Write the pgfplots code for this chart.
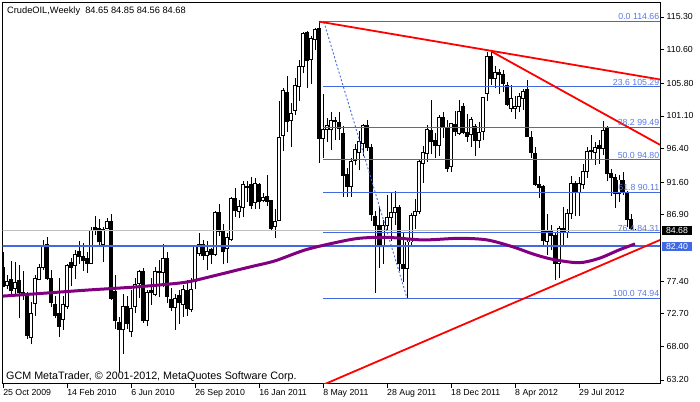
\documentclass[border=0pt]{standalone}
\usepackage{pgfplots}
\pgfplotsset{compat=1.18}
\usepackage{pgfplotstable}
\usepackage{fontspec}
\setmainfont{Liberation Sans}
\definecolor{fibline}{RGB}{65,105,225}
\definecolor{fibtext}{RGB}{90,120,230}
\definecolor{maline}{RGB}{128,0,128}
\definecolor{bidgray}{RGB}{192,192,192}
\newcommand\lab{\fontsize{8.8}{10}\selectfont}

\pgfplotstableread{
i o h l c
0 79.4 81.5 76.5 76.6
1 76.7 78.3 76.2 77.4
2 77.6 80.3 75.3 76.0
3 76.3 80.1 75.3 77.2
4 77.5 79.7 72.1 75.7
5 75.7 78.8 74.7 75.5
6 75.6 75.8 69.1 69.6
7 69.3 74.4 68.3 72.8
8 74.2 78.3 72.4 77.8
9 77.6 79.9 77.5 79.4
10 79.4 83.3 79.0 82.5
11 82.7 83.7 77.5 77.7
12 77.7 79.0 73.7 74.3
13 74.0 75.3 72.1 72.5
14 72.7 77.8 69.3 70.9
15 71.9 75.3 70.4 74.0
16 73.7 79.9 73.4 79.6
17 80.1 80.7 76.7 79.4
18 79.6 81.8 77.7 81.2
19 81.6 83.1 79.9 80.9
20 80.9 82.8 78.9 80.3
21 80.7 81.5 78.6 79.9
22 79.9 85.1 79.9 84.6
23 85.1 86.8 84.0 84.6
24 84.9 86.3 82.3 83.0
25 82.7 85.1 80.2 84.8
26 85.0 86.4 84.8 85.9
27 85.9 87.0 74.7 74.9
28 75.9 78.3 70.5 71.7
29 71.4 72.3 64.4 70.4
30 70.4 75.5 66.9 73.7
31 73.7 75.2 70.5 71.3
32 70.1 76.1 69.4 73.5
33 73.7 77.9 72.8 76.9
34 77.1 79.0 74.9 78.7
35 78.8 79.2 71.4 71.8
36 71.8 76.1 70.9 75.8
37 76.1 77.9 74.0 75.7
38 75.5 79.4 75.2 78.8
39 78.8 80.4 75.1 78.6
40 78.6 82.7 76.6 80.6
41 80.7 81.5 74.2 75.2
42 74.7 76.4 73.1 73.6
43 73.6 75.6 70.4 74.9
44 75.3 76.1 71.3 74.3
45 74.1 76.8 72.3 76.2
46 76.1 77.6 72.4 73.4
47 73.3 77.8 73.0 76.2
48 77.4 82.6 76.2 82.3
49 81.4 84.3 81.0 82.7
50 82.7 83.3 80.4 81.0
51 81.0 83.1 79.0 81.6
52 81.9 82.2 79.9 81.2
53 81.2 87.4 81.0 87.2
54 87.2 88.5 83.9 84.5
55 84.7 85.6 79.8 81.6
56 82.0 84.3 80.0 83.7
57 83.3 89.4 83.2 89.2
58 89.2 90.7 86.6 87.5
59 87.4 89.0 86.4 88.1
60 88.0 91.7 86.6 91.2
61 90.8 91.8 88.8 90.9
62 91.2 92.3 87.8 88.2
63 88.7 92.2 87.8 91.4
64 91.3 91.4 87.8 88.8
65 89.0 90.0 88.7 89.4
66 89.5 92.6 88.1 88.8
67 88.9 89.0 84.7 85.0
68 85.2 87.7 83.6 86.0
69 86.1 103.2 86.0 98.0
70 98.3 105.1 96.1 104.8
71 104.5 106.8 98.8 100.3
72 100.4 103.0 96.7 101.4
73 101.9 106.5 101.2 105.4
74 105.3 109.1 103.2 108.2
75 108.2 113.1 107.2 112.9
76 113.1 113.3 105.1 109.1
77 109.2 112.5 105.7 112.2
78 112.1 113.7 110.5 113.5
79 113.7 114.66 94.4 97.9
80 97.9 104.3 95.0 99.2
81 99.2 100.8 97.4 99.7
82 99.1 101.7 96.2 100.5
83 100.3 101.0 97.6 100.4
84 100.2 101.7 97.7 99.3
85 98.6 99.6 89.5 92.6
86 92.7 93.6 89.5 91.0
87 91.0 95.0 89.5 94.5
88 94.7 97.1 94.1 96.3
89 95.8 99.0 93.3 97.4
90 97.2 100.0 95.3 99.7
91 99.7 100.5 96.0 96.5
92 96.5 97.0 86.0 86.9
93 86.6 87.5 75.7 85.4
94 85.4 88.2 79.2 82.3
95 82.4 86.2 79.9 85.4
96 85.4 89.8 84.6 86.5
97 86.5 90.2 83.2 87.2
98 87.2 90.3 85.5 87.9
99 87.9 88.3 78.9 79.9
100 79.8 84.5 77.3 79.2
101 79.2 83.4 74.94 83.0
102 83.0 87.2 82.3 86.8
103 86.8 89.2 84.9 87.4
104 87.4 94.7 87.0 94.5
105 94.3 96.8 91.5 95.9
106 95.7 99.8 94.5 99.1
107 99.0 103.4 95.6 97.4
108 97.6 98.7 95.0 96.8
109 96.9 101.3 95.4 100.9
110 100.9 101.6 97.9 99.4
111 99.3 100.5 93.1 93.6
112 93.8 100.1 93.1 100.0
113 99.9 101.8 98.2 98.8
114 98.6 103.4 98.4 101.7
115 102.4 103.0 98.5 98.7
116 98.7 101.4 97.4 98.2
117 98.5 100.9 96.7 100.6
118 99.6 99.9 95.3 97.6
119 97.6 100.2 96.5 98.7
120 98.8 103.8 97.6 103.7
121 104.3 110.3 103.3 109.6
122 109.6 110.4 105.6 106.5
123 106.5 108.2 105.1 107.3
124 107.3 107.9 104.3 107.0
125 107.0 107.7 104.5 105.8
126 105.4 106.0 102.5 102.8
127 102.2 105.5 101.6 103.6
128 102.2 104.0 100.7 102.5
129 102.5 104.4 101.7 103.9
130 103.6 105.0 102.0 104.6
131 104.9 106.3 98.1 98.2
132 98.0 98.9 95.0 95.9
133 95.7 96.6 91.1 91.2
134 91.3 92.5 89.3 90.8
135 90.9 91.2 82.5 83.2
136 83.1 87.0 81.2 84.5
137 84.6 85.4 81.9 84.0
138 84.0 84.5 77.6 79.9
139 79.9 85.3 77.8 85.0
140 85.0 88.0 82.6 84.4
141 84.4 87.7 83.6 87.1
142 87.1 92.5 86.3 91.4
143 91.4 91.7 86.8 90.1
144 90.1 92.3 86.8 91.4
145 91.2 94.2 90.6 93.1
146 93.1 96.6 92.2 96.0
147 96.2 98.3 94.8 96.0
148 95.9 97.3 94.0 96.5
149 96.9 97.7 94.2 96.4
150 96.4 100.4 95.5 99.0
151 99.3 99.6 91.7 92.9
152 92.9 93.5 89.6 92.2
153 92.2 92.7 87.9 89.9
154 89.9 92.6 88.8 91.9
155 91.9 93.0 89.7 90.1
156 89.9 90.3 85.2 86.3
157 86.3 87.0 84.6 84.9
158 84.65 84.85 84.56 84.68
}\candles

\pgfplotstableread{
i m
-1 75.2
10 75.64
21 76.1
32 76.5
39 76.83
46 77.26
52.5 78.12
58 78.9
62 79.46
68 80.3
75.5 81.86
83 82.9
89 83.53
96 83.67
105 83.3
114 83.53
121 83.3
127.5 82.3
132.5 81.28
137.5 80.5
144 80.03
149 80.65
154 81.86
158 82.72
}\ma

\begin{document}
\begin{tikzpicture}
\useasboundingbox (-2.7bp,-18bp) rectangle (697.3bp,384bp);
\begin{axis}[
  scale only axis, width=657.3bp, height=381.3bp,
  at={(0,0)}, anchor=south west,
  xmin=-0.1, xmax=164.25, ymin=62.62, ymax=117.35,
  clip mode=individual,
  axis line style={black, line width=1bp},
  xtick={0,16,32,48,64,80,96,112,128,144},
  xticklabels={25 Oct 2009, 14 Feb 2010, 6 Jun 2010, 26 Sep 2010, 16 Jan 2011, 8 May 2011, 28 Aug 2011, 18 Dec 2011, 8 Apr 2012, 29 Jul 2012},
  ytick={63.2,68.0,72.7,77.4,86.9,91.6,96.4,101.1,105.8,110.6,115.3},
  yticklabels={63.20,68.00,72.70,77.40,86.90,91.60,96.40,101.10,105.80,110.60,115.30},
  xtick pos=bottom, ytick pos=right, yticklabel pos=right,
  tick align=outside, major tick length=4bp,
  tick style={black, line width=0.8bp},
  xticklabel style={anchor=north west, inner sep=0pt, yshift=-1bp, font=\lab},
  yticklabel style={anchor=west, inner sep=0pt, xshift=2.5bp, font=\lab},
]
% wicks
\addplot[draw=none, mark=none, forget plot,
  error bars/.cd, y dir=plus, y explicit, error mark=none,
  error bar style={draw=black, line width=1bp}]
  table[x=i, y=l, y error expr=\thisrow{h}-\thisrow{l}] {\candles};
% bodies (outline / bearish fill)
\addplot[draw=none, mark=none, forget plot,
  error bars/.cd, y dir=plus, y explicit, error mark=none,
  error bar style={draw=black, line width=3.2bp}]
  table[x=i, y expr={min(\thisrow{o},\thisrow{c})-0.07}, y error expr={abs(\thisrow{c}-\thisrow{o})+0.14}] {\candles};
% bullish interior
\addplot[draw=none, mark=none, forget plot,
  error bars/.cd, y dir=plus, y explicit, error mark=none,
  error bar style={draw=white, line width=1.3bp}]
  table[x=i, y expr={\thisrow{o}+0.07}, y error expr={max(\thisrow{c}-\thisrow{o}-0.14,0)}] {\candles};

% bid and level lines
\addplot[bidgray, line width=0.8bp] coordinates {(-1,84.68) (166,84.68)};
\addplot[fibline, line width=2bp] coordinates {(-1,82.40) (166,82.40)};
% fibonacci
\addplot[fibline, line width=1bp] coordinates {(80,114.66) (166,114.66)};
\addplot[fibline, line width=1bp] coordinates {(80,105.29) (166,105.29)};
\addplot[fibline, line width=1bp] coordinates {(80,99.49) (166,99.49)};
\addplot[fibline, line width=1bp] coordinates {(80,94.80) (166,94.80)};
\addplot[fibline, line width=1bp] coordinates {(80,90.11) (166,90.11)};
\addplot[fibline, line width=1bp] coordinates {(80,84.31) (166,84.31)};
\addplot[fibline, line width=1bp] coordinates {(80,74.94) (166,74.94)};
\addplot[fibline, line width=0.9bp, dash pattern=on 2bp off 2bp] coordinates {(80.2,114.6) (101,74.94)};
% moving average
\addplot[maline, line width=3bp, smooth] table[x=i, y=m] {\ma};
% trend lines
\addplot[red, line width=1.8bp] coordinates {(79.07,114.63) (164.25,106.33)};
\addplot[red, line width=1.8bp] coordinates {(122.2,110.32) (164.25,96.95)};
\addplot[red, line width=1.8bp] coordinates {(80.0,62.50) (164.25,83.29)};

% fib labels
\begin{scope}[every node/.style={anchor=south east, inner sep=0pt, text=fibtext, font=\lab, yshift=1.2bp}]
\node at (axis cs:164.1,114.66) {0.0 114.66};
\node at (axis cs:164.1,105.29) {23.6 105.29};
\node at (axis cs:164.1,99.49) {38.2 99.49};
\node at (axis cs:164.1,94.80) {50.0 94.80};
\node at (axis cs:164.1,90.11) {61.8 90.11};
\node at (axis cs:164.1,84.31) {76.4 84.31};
\node at (axis cs:164.1,74.94) {100.0 74.94};
\end{scope}
% price boxes
\node[anchor=west, fill=black, text=white, font=\lab, inner xsep=4bp, inner ysep=0pt, minimum height=9bp, xshift=1.8bp] at (axis cs:164.25,84.68) {84.68};
\node[anchor=west, fill=fibline, text=white, font=\lab, inner xsep=4bp, inner ysep=0pt, minimum height=9bp, xshift=1.8bp] at (axis cs:164.25,82.40) {82.40};
\end{axis}
\node[anchor=west, inner sep=0pt, font=\fontsize{9.3}{11}\selectfont] at (4.3bp,372.5bp) {CrudeOIL,Weekly\ \ 84.65 84.85 84.56 84.68};
\node[anchor=west, inner sep=0pt, font=\fontsize{10.8}{12}\selectfont] at (3.3bp,7bp) {GCM MetaTrader, \textcopyright{} 2001-2012, MetaQuotes Software Corp.};
\end{tikzpicture}
\end{document}
